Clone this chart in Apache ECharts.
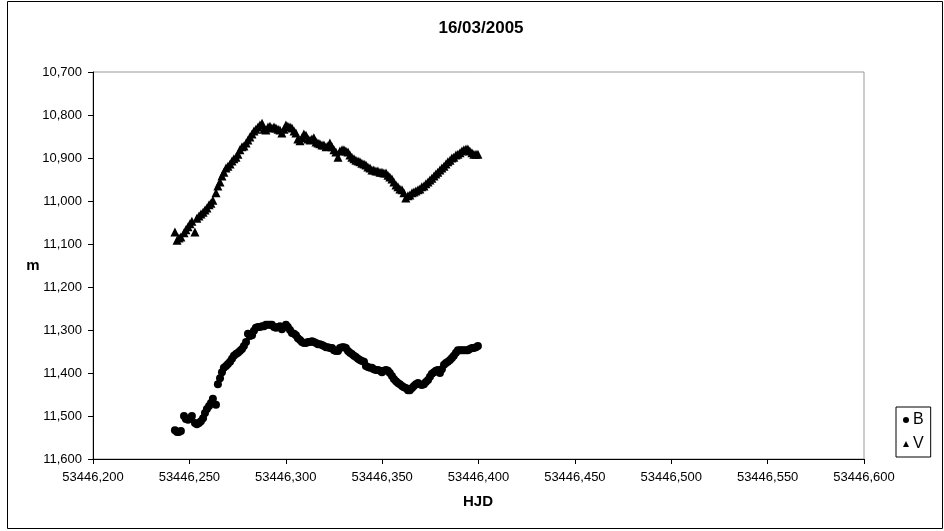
<!DOCTYPE html>
<html>
<head>
<meta charset="utf-8">
<script src="https://cdn.jsdelivr.net/npm/echarts@6/dist/echarts.min.js"></script>
<style>
  html, body { margin: 0; padding: 0; background: #fff; }
  #chart { width: 944px; height: 531px; }
</style>
</head>
<body>
<div id="chart"></div>
<script>
// Heliocentric Julian dates of the observations (shared by both filters)
const hjd = [
  53446.2425, 53446.2436, 53446.2446, 53446.2456, 53446.2472, 53446.2482, 53446.2493, 53446.2503, 53446.2513, 53446.2529,
  53446.2539, 53446.2550, 53446.2560, 53446.2571, 53446.2581, 53446.2591, 53446.2602, 53446.2612, 53446.2622, 53446.2638,
  53446.2648, 53446.2659, 53446.2669, 53446.2679, 53446.2690, 53446.2700, 53446.2711, 53446.2721, 53446.2731, 53446.2742,
  53446.2752, 53446.2762, 53446.2773, 53446.2783, 53446.2794, 53446.2804, 53446.2814, 53446.2825, 53446.2835, 53446.2845,
  53446.2856, 53446.2866, 53446.2877, 53446.2887, 53446.2897, 53446.2908, 53446.2918, 53446.2928, 53446.2939, 53446.2949,
  53446.2960, 53446.2970, 53446.2980, 53446.2991, 53446.3001, 53446.3011, 53446.3022, 53446.3032, 53446.3043, 53446.3053,
  53446.3063, 53446.3074, 53446.3084, 53446.3094, 53446.3105, 53446.3115, 53446.3126, 53446.3136, 53446.3146, 53446.3157,
  53446.3167, 53446.3177, 53446.3188, 53446.3198, 53446.3209, 53446.3219, 53446.3229, 53446.3240, 53446.3250, 53446.3260,
  53446.3271, 53446.3281, 53446.3292, 53446.3302, 53446.3312, 53446.3323, 53446.3333, 53446.3343, 53446.3354, 53446.3364,
  53446.3375, 53446.3385, 53446.3395, 53446.3406, 53446.3416, 53446.3426, 53446.3437, 53446.3447, 53446.3457, 53446.3468,
  53446.3478, 53446.3489, 53446.3499, 53446.3509, 53446.3520, 53446.3530, 53446.3540, 53446.3551, 53446.3561, 53446.3572,
  53446.3582, 53446.3592, 53446.3603, 53446.3613, 53446.3623, 53446.3634, 53446.3644, 53446.3655, 53446.3665, 53446.3675,
  53446.3686, 53446.3696, 53446.3706, 53446.3717, 53446.3727, 53446.3738, 53446.3748, 53446.3758, 53446.3769, 53446.3779,
  53446.3789, 53446.3800, 53446.3810, 53446.3821, 53446.3831, 53446.3841, 53446.3852, 53446.3862, 53446.3872, 53446.3883,
  53446.3893, 53446.3904, 53446.3914, 53446.3924, 53446.3935, 53446.3945, 53446.3955, 53446.3966, 53446.3976, 53446.3987,
  53446.3997
];

// B magnitudes
const magB = [
  11.533, 11.537, 11.537, 11.535, 11.500, 11.507, 11.509, 11.505, 11.500, 11.516,
  11.519, 11.516, 11.512, 11.505, 11.493, 11.484, 11.477, 11.470, 11.460, 11.474,
  11.426, 11.412, 11.398, 11.388, 11.384, 11.379, 11.374, 11.367, 11.360, 11.356,
  11.353, 11.349, 11.344, 11.337, 11.328, 11.309, 11.314, 11.312, 11.302, 11.295,
  11.293, 11.293, 11.291, 11.291, 11.288, 11.288, 11.288, 11.288, 11.293, 11.295,
  11.293, 11.291, 11.298, 11.293, 11.288, 11.293, 11.300, 11.307, 11.309, 11.312,
  11.319, 11.323, 11.328, 11.330, 11.330, 11.328, 11.328, 11.326, 11.328, 11.330,
  11.333, 11.333, 11.335, 11.337, 11.340, 11.340, 11.342, 11.342, 11.347, 11.349,
  11.349, 11.342, 11.340, 11.340, 11.342, 11.349, 11.353, 11.356, 11.360, 11.363,
  11.367, 11.370, 11.372, 11.374, 11.384, 11.386, 11.388, 11.388, 11.391, 11.393,
  11.393, 11.395, 11.398, 11.395, 11.393, 11.395, 11.400, 11.407, 11.414, 11.419,
  11.423, 11.426, 11.430, 11.433, 11.435, 11.440, 11.440, 11.435, 11.430, 11.426,
  11.423, 11.426, 11.428, 11.426, 11.421, 11.416, 11.409, 11.402, 11.398, 11.395,
  11.393, 11.400, 11.391, 11.381, 11.377, 11.374, 11.370, 11.365, 11.360, 11.353,
  11.347, 11.347, 11.347, 11.347, 11.347, 11.347, 11.344, 11.342, 11.342, 11.340,
  11.337
];

// V magnitudes
const magV = [
  11.072, 11.091, 11.086, 11.084, 11.074, 11.067, 11.060, 11.053, 11.047, 11.072,
  11.040, 11.035, 11.030, 11.026, 11.021, 11.016, 11.009, 11.005, 10.998, 10.981,
  10.965, 10.956, 10.942, 10.933, 10.923, 10.919, 10.914, 10.907, 10.902, 10.898,
  10.891, 10.881, 10.874, 10.872, 10.865, 10.858, 10.851, 10.844, 10.837, 10.833,
  10.828, 10.823, 10.819, 10.833, 10.835, 10.828, 10.826, 10.830, 10.828, 10.830,
  10.833, 10.835, 10.842, 10.833, 10.823, 10.826, 10.828, 10.830, 10.837, 10.842,
  10.856, 10.860, 10.853, 10.844, 10.847, 10.856, 10.858, 10.856, 10.853, 10.863,
  10.865, 10.867, 10.870, 10.870, 10.874, 10.872, 10.865, 10.874, 10.881, 10.886,
  10.898, 10.884, 10.881, 10.881, 10.884, 10.886, 10.893, 10.898, 10.902, 10.905,
  10.907, 10.909, 10.912, 10.914, 10.916, 10.921, 10.923, 10.928, 10.928, 10.930,
  10.930, 10.933, 10.933, 10.935, 10.935, 10.940, 10.944, 10.949, 10.956, 10.963,
  10.967, 10.972, 10.974, 10.981, 10.993, 10.988, 10.986, 10.981, 10.979, 10.977,
  10.974, 10.972, 10.967, 10.965, 10.960, 10.956, 10.951, 10.947, 10.942, 10.937,
  10.933, 10.928, 10.923, 10.919, 10.914, 10.909, 10.905, 10.900, 10.898, 10.893,
  10.891, 10.888, 10.884, 10.881, 10.879, 10.879, 10.884, 10.888, 10.891, 10.891,
  10.891
];

// Axis ranges and tick steps
const xRange = [53446.2, 53446.6];
const xStep = 0.05;
const yRange = [10.7, 11.6];
const yStep = 0.1;

const titleText = '16/03/2005';
const xName = 'HJD';
const yName = 'm';
const seriesNames = ['B', 'V'];

const FONT = '"Liberation Sans", Arial, sans-serif';
const commaDecimal = v => v.toFixed(3).replace('.', ',');

const pairs = ys => hjd.map((t, i) => [t, ys[i]]);

const chart = echarts.init(document.getElementById('chart'), null, { renderer: 'canvas' });

chart.setOption({
  animation: false,
  backgroundColor: '#ffffff',
  title: {
    text: titleText,
    left: 476,
    top: 15,
    textAlign: 'center',
    textStyle: { fontFamily: FONT, fontSize: 17, fontWeight: 'bold', color: '#000' }
  },
  grid: {
    left: 93, right: 80, top: 72, bottom: 72,
    show: true,
    borderColor: '#999999',
    borderWidth: 1,
    backgroundColor: '#ffffff'
  },
  legend: {
    orient: 'vertical',
    left: 896,
    top: 407,
    data: [
      { name: seriesNames[0], icon: 'circle' },
      { name: seriesNames[1], icon: 'triangle' }
    ],
    itemWidth: 6,
    itemHeight: 6,
    itemGap: 8,
    padding: [5, 7, 5, 7],
    borderColor: '#000',
    borderWidth: 1,
    backgroundColor: '#fff',
    textStyle: { fontFamily: FONT, fontSize: 16, color: '#000', padding: [0, 0, 0, -1] }
  },
  xAxis: {
    type: 'value',
    min: xRange[0],
    max: xRange[1],
    interval: xStep,
    axisLine: { onZero: false, lineStyle: { color: '#000', width: 1 } },
    axisTick: { show: true, inside: false, length: 5, lineStyle: { color: '#000' } },
    splitLine: { show: false },
    axisLabel: {
      margin: 12,
      fontFamily: FONT, fontSize: 13, color: '#000',
      formatter: commaDecimal
    }
  },
  yAxis: {
    type: 'value',
    inverse: true,
    min: yRange[0],
    max: yRange[1],
    interval: yStep,
    axisLine: { onZero: false, lineStyle: { color: '#000', width: 1 } },
    axisTick: { show: true, inside: false, length: 5, lineStyle: { color: '#000' } },
    splitLine: { show: false },
    axisLabel: {
      margin: 11,
      fontFamily: FONT, fontSize: 13, color: '#000',
      formatter: commaDecimal
    }
  },
  graphic: [
    {
      type: 'rect',
      shape: { x: 7.5, y: 1.5, width: 935, height: 527 },
      style: { fill: null, stroke: '#000', lineWidth: 1 },
      silent: true,
      z: -10
    },
    {
      type: 'text',
      x: 478, y: 502,
      style: {
        text: xName, fontFamily: FONT, fontSize: 15, fontWeight: 'bold',
        fill: '#000', align: 'center', verticalAlign: 'middle'
      }
    },
    {
      type: 'text',
      x: 33, y: 266,
      style: {
        text: yName, fontFamily: FONT, fontSize: 15, fontWeight: 'bold',
        fill: '#000', align: 'center', verticalAlign: 'middle'
      }
    }
  ],
  series: [
    {
      name: seriesNames[0],
      type: 'scatter',
      symbol: 'circle',
      symbolSize: 8,
      itemStyle: { color: '#000', opacity: 1 },
      data: pairs(magB)
    },
    {
      name: seriesNames[1],
      type: 'scatter',
      symbol: 'triangle',
      symbolSize: 9,
      itemStyle: { color: '#000', opacity: 1 },
      data: pairs(magV)
    }
  ]
});
</script>
</body>
</html>
